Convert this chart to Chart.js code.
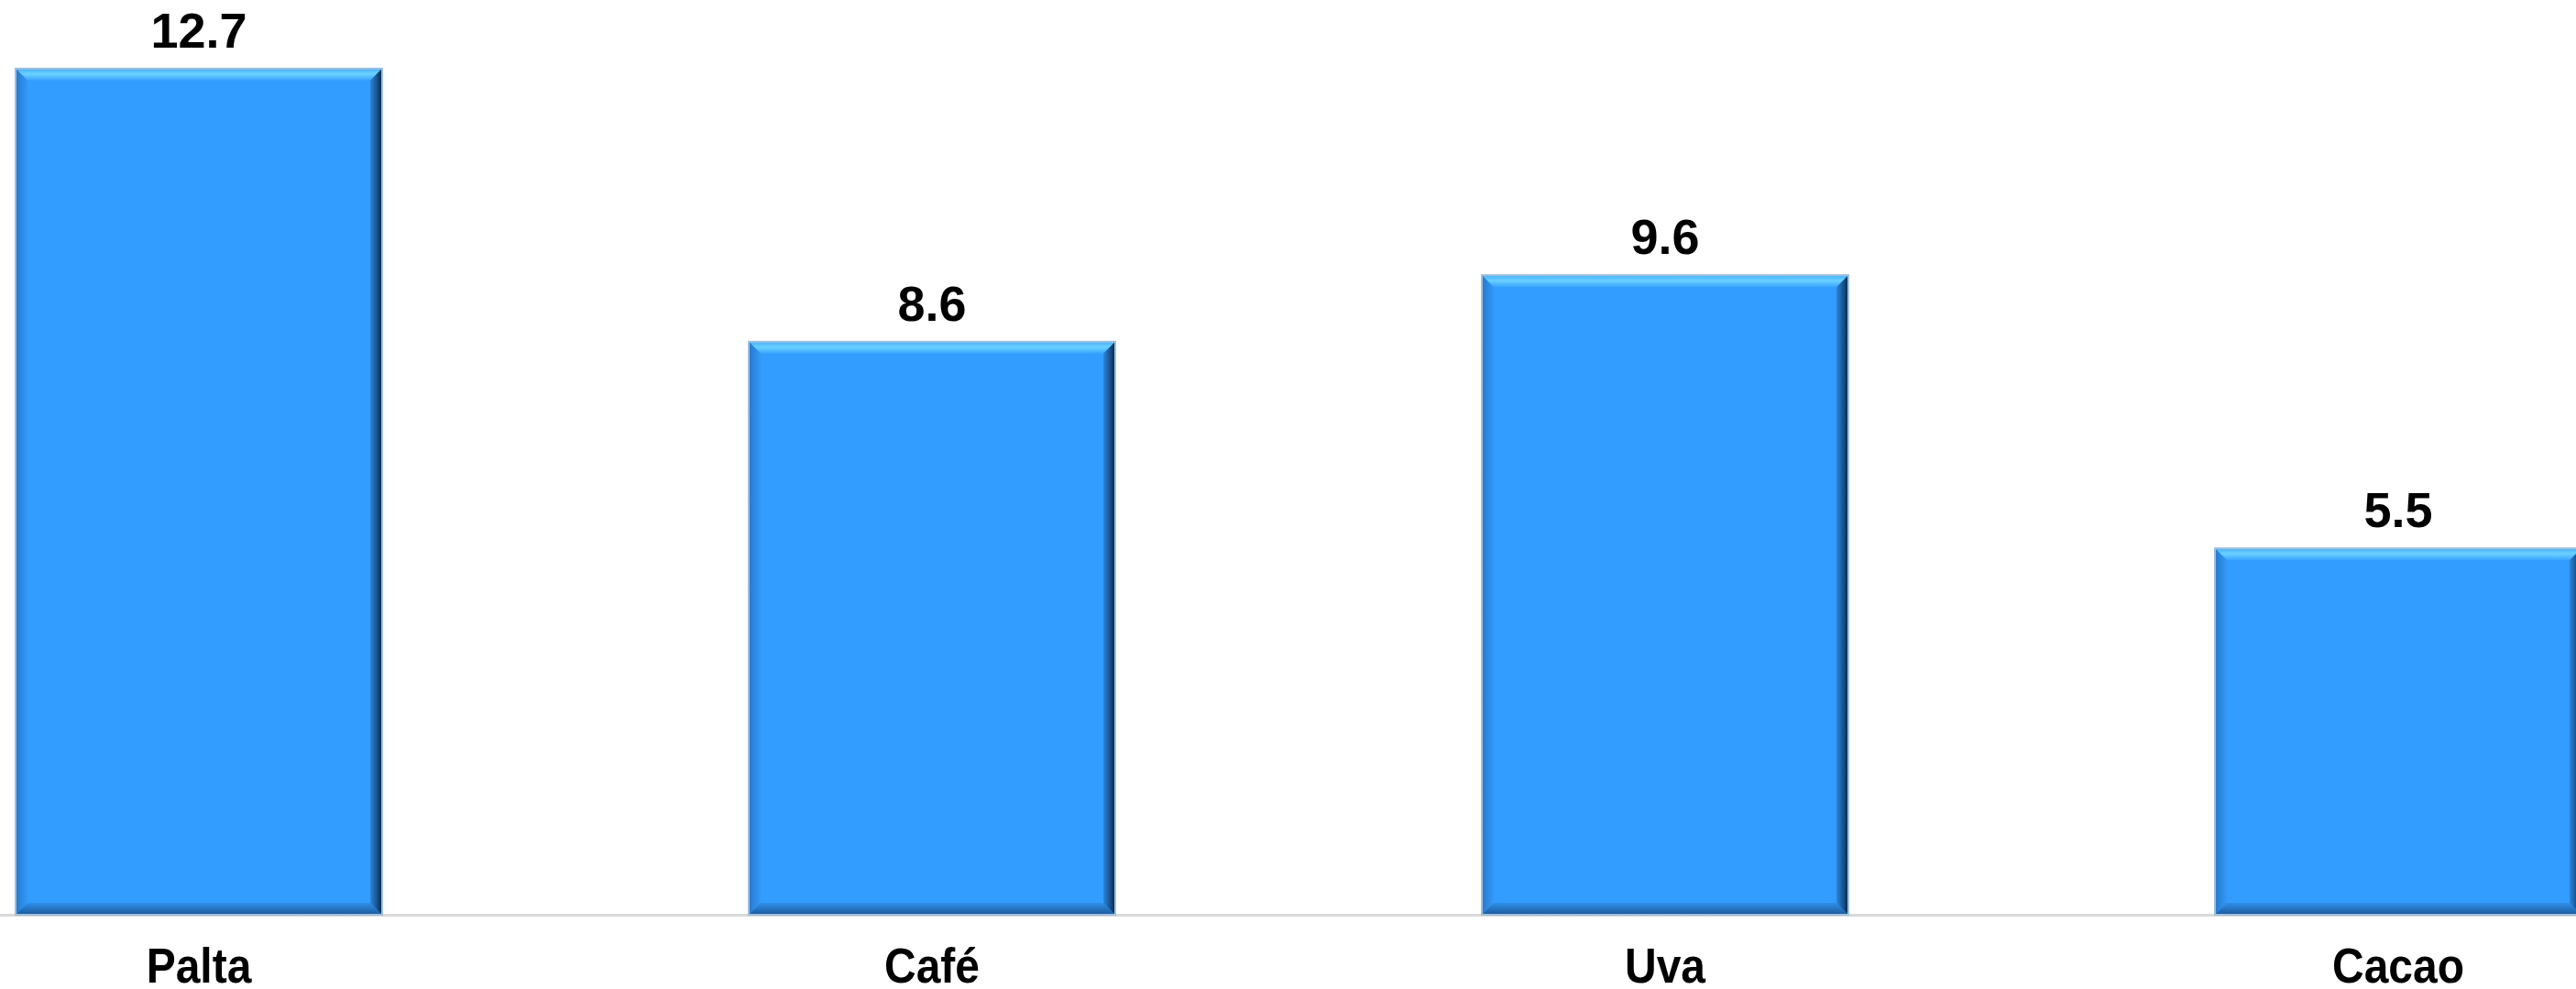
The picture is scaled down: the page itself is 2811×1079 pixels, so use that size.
<!DOCTYPE html>
<html>
<head>
<meta charset="utf-8">
<script src="https://cdn.jsdelivr.net/npm/chart.js@4"></script>
<style>
	html, body { margin: 0; padding: 0; background: #fff; overflow: hidden; }
	body { width: 2811px; height: 1079px; position: relative; }
	#wrap { position: absolute; left: -183px; top: 0; width: 3200px; height: 1079px; }
</style>
</head>
<body>
<div id="wrap"><canvas id="chart"></canvas></div>
<script>
const categories = ['Palta', 'Café', 'Uva', 'Cacao'];
const values = [12.7, 8.6, 9.6, 5.5];
const y_max = 13;

const font_family = "'Liberation Sans', Arial, sans-serif";
const bar_color = '#339cff';

// bevelled edges, value labels and category labels
const bevel_plugin = {
	id: 'bevel',
	afterDatasetsDraw(chart){
		const ctx = chart.ctx;
		const meta = chart.getDatasetMeta(0);
		const b = 13;

		meta.data.forEach(function(bar, i){
			const p = bar.getProps(['x', 'y', 'base', 'width'], true);
			const l = p.x - p.width / 2, r = p.x + p.width / 2;
			const t = p.y, btm = p.base;

			ctx.save();

			// top edge
			let g = ctx.createLinearGradient(0, t, 0, t + b);
			g.addColorStop(0, '#45adff');
			g.addColorStop(0.45, '#6ad2ff');
			g.addColorStop(1, '#3aa3ff');
			ctx.fillStyle = g;
			ctx.beginPath();
			ctx.moveTo(l, t); ctx.lineTo(r, t); ctx.lineTo(r - b, t + b); ctx.lineTo(l + b, t + b);
			ctx.closePath(); ctx.fill();

			// left edge
			g = ctx.createLinearGradient(l, 0, l + b, 0);
			g.addColorStop(0, '#2878cc');
			g.addColorStop(1, '#3399f8');
			ctx.fillStyle = g;
			ctx.beginPath();
			ctx.moveTo(l, t); ctx.lineTo(l + b, t + b); ctx.lineTo(l + b, btm - b); ctx.lineTo(l, btm);
			ctx.closePath(); ctx.fill();

			// bottom edge
			g = ctx.createLinearGradient(0, btm - b, 0, btm);
			g.addColorStop(0, '#2f8fe8');
			g.addColorStop(1, '#1b5a9c');
			ctx.fillStyle = g;
			ctx.beginPath();
			ctx.moveTo(l, btm); ctx.lineTo(l + b, btm - b); ctx.lineTo(r - b, btm - b); ctx.lineTo(r, btm);
			ctx.closePath(); ctx.fill();

			// right edge
			g = ctx.createLinearGradient(r - b, 0, r, 0);
			g.addColorStop(0, '#2b86dc');
			g.addColorStop(0.6, '#174f88');
			g.addColorStop(1, '#0a2444');
			ctx.fillStyle = g;
			ctx.beginPath();
			ctx.moveTo(r, t); ctx.lineTo(r, btm); ctx.lineTo(r - b, btm - b); ctx.lineTo(r - b, t + b);
			ctx.closePath(); ctx.fill();

			// thin outline
			ctx.strokeStyle = '#9fbfdc';
			ctx.lineWidth = 2;
			ctx.strokeRect(l, t, r - l, btm - t);

			// value above the bar
			ctx.fillStyle = '#000';
			ctx.font = 'bold 54px ' + font_family;
			ctx.textAlign = 'center';
			ctx.textBaseline = 'alphabetic';
			ctx.fillText(values[i].toFixed(1), p.x, t - 23);

			ctx.restore();
		});

		// category names under the axis
		const xs = chart.scales.x;
		ctx.save();
		ctx.fillStyle = '#000';
		ctx.font = 'bold 48px ' + font_family;
		ctx.textAlign = 'center';
		ctx.textBaseline = 'alphabetic';
		categories.forEach(function(name, i){
			const x = xs.getPixelForTick(i);
			const y = xs.top + 74;
			ctx.save();
			ctx.translate(x, y);
			ctx.scale(1, 1.1);
			ctx.fillText(name, 0, 0);
			ctx.restore();
		});
		ctx.restore();
	}
};

new Chart(document.getElementById('chart'), {
	type: 'bar',
	data: {
		labels: categories,
		datasets: [{
			data: values,
			backgroundColor: bar_color,
			borderWidth: 0,
			barPercentage: 1,
			categoryPercentage: 0.5
		}]
	},
	options: {
		responsive: true,
		maintainAspectRatio: false,
		animation: false,
		layout: { padding: { top: 53, left: 0, right: 0, bottom: 0 } },
		plugins: {
			legend: { display: false },
			tooltip: { enabled: false }
		},
		scales: {
			x: {
				grid: { display: false, drawTicks: false },
				border: { display: true, color: '#d9d9d9', width: 3 },
				ticks: { display: false },
				afterFit(scale){ scale.height = 81; }
			},
			y: {
				display: false,
				min: 0,
				max: y_max
			}
		}
	},
	plugins: [bevel_plugin]
});
</script>
</body>
</html>
